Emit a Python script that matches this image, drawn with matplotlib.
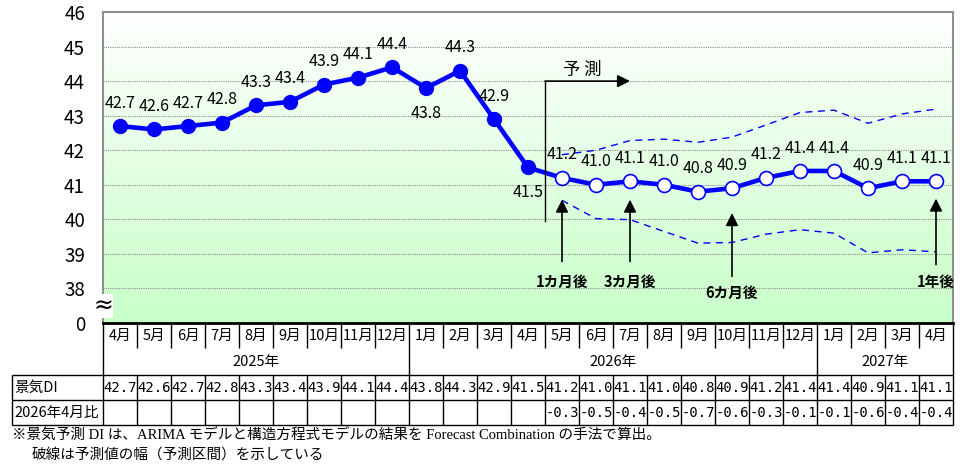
import numpy as np
import matplotlib
matplotlib.use('Agg')
import matplotlib.pyplot as plt
from matplotlib import transforms
from matplotlib.colors import LinearSegmentedColormap

plt.rcParams['font.family'] = ['Noto Sans CJK JP', 'DejaVu Sans']

# data
months = ['4月', '5月', '6月', '7月', '8月', '9月', '10月', '11月', '12月',
          '1月', '2月', '3月', '4月', '5月', '6月', '7月', '8月', '9月', '10月', '11月', '12月',
          '1月', '2月', '3月', '4月']
years = ['2025年', '2026年', '2027年']
year_spans = [9, 12, 4]
di = [42.7, 42.6, 42.7, 42.8, 43.3, 43.4, 43.9, 44.1, 44.4, 43.8, 44.3, 42.9, 41.5,
      41.2, 41.0, 41.1, 41.0, 40.8, 40.9, 41.2, 41.4, 41.4, 40.9, 41.1, 41.1]
diff = [None] * 13 + [-0.3, -0.5, -0.4, -0.5, -0.7, -0.6, -0.3, -0.1, -0.1, -0.6, -0.4, -0.4]
upper = [41.87, 42.0, 42.28, 42.32, 42.23, 42.38, 42.73, 43.09, 43.16, 42.78, 43.05, 43.19]
lower = [40.55, 40.02, 39.99, 39.65, 39.31, 39.33, 39.57, 39.70, 39.60, 39.03, 39.12, 39.06]
n_actual = 13
arrow_idx = [13, 15, 18, 24]
arrow_text = ['1カ月後', '3カ月後', '6カ月後', '1年後']
row_names = ['景気DI', '2026年4月比']

W, H = 963, 465
fig = plt.figure(figsize=(W / 100, H / 100), dpi=100)
ax = fig.add_axes([103 / W, 1 - 323 / H, (953 - 103) / W, (323 - 12) / H])
x = np.arange(len(di))
ax.set_xlim(-0.5, len(di) - 0.5)
ax.set_ylim(37, 46)

# background gradient
cmap = LinearSegmentedColormap.from_list('g', ['#c8ffc8', '#ffffff'])
grad = np.linspace(0, 1, 256).reshape(-1, 1)
ax.imshow(grad, extent=[-0.5, len(di) - 0.5, 37, 46], origin='lower', aspect='auto',
          cmap=cmap, zorder=0)

for v in range(38, 46):
    ax.axhline(v, color='#8c8c8c', lw=0.8, ls=(0, (1, 1)), zorder=1)

ax.set_xticks([])
ax.set_yticks(range(37, 47))
ax.set_yticklabels(['0'] + [str(v) for v in range(38, 47)])
ax.tick_params(axis='y', length=0, pad=13, labelsize=13.5)
for s in ['top', 'left', 'right']:
    ax.spines[s].set_color('#8f8f8f')
    ax.spines[s].set_linewidth(1.5)
ax.spines['bottom'].set_color('black')
ax.spines['bottom'].set_linewidth(2)

# break mark
brk = transforms.blended_transform_factory(ax.transAxes, ax.transData)
ax.text(0, 37.5, '≈', transform=brk, ha='center', va='center', fontsize=17,
        family='DejaVu Sans', bbox=dict(fc='white', ec='none', pad=0), zorder=6, clip_on=False)

# lines
ax.plot(x, di, color='#0000ff', lw=3.3, zorder=4, solid_joinstyle='round')
ax.plot(x[:n_actual], di[:n_actual], 'o', ms=10, color='#0000ff', zorder=5)
ax.plot(x[n_actual:], di[n_actual:], 'o', ms=10, mfc='white', mec='#0000ff', mew=1.2, zorder=5)
ax.plot(x[n_actual:], upper, color='#0000ff', lw=1, ls=(0, (5, 4)), zorder=3)
ax.plot(x[n_actual:], lower, color='#0000ff', lw=1, ls=(0, (5, 4)), zorder=3)

for i, v in enumerate(di):
    below = i in (9, 12)
    ax.annotate(f'{v:.1f}', (i, v), xytext=(0, -18 if below else 16.5), textcoords='offset points',
                ha='center', va='center', fontsize=11.5, zorder=6)

# forecast arrows
tails = [38.78, 38.78, 38.35, 38.69]
heads = [40.57, 40.57, 40.18, 40.6]
label_y = [38.2, 38.2, 37.87, 38.2]
ap = dict(arrowstyle='-|>,head_length=0.5,head_width=0.25', color='black', lw=1.2,
          mutation_scale=15, shrinkA=0, shrinkB=0)
for i, t, h, ly, txt in zip(arrow_idx, tails, heads, label_y, arrow_text):
    ax.annotate('', xy=(i, h), xytext=(i, t), arrowprops=ap, zorder=6)
    ax.text(i, ly, txt, ha='center', va='center', fontsize=10.5, fontweight='bold', zorder=6)

ax.plot([n_actual - 0.5, n_actual - 0.5], [39.94, 44.0], color='black', lw=1, zorder=6)
ax.annotate('', xy=(15.0, 44.0), xytext=(n_actual - 0.5, 44.0), arrowprops=ap, zorder=6)
ax.text(13.6, 44.32, '予 測', ha='center', va='center', fontsize=12.5, zorder=6)

# table
tab = fig.add_axes([0, 0, 1, 1])
tab.set_xlim(0, W)
tab.set_ylim(H, 0)
tab.axis('off')
tab.patch.set_visible(False)
tr = transforms.blended_transform_factory(ax.transData, tab.transData)
edges = np.arange(len(di) + 1) - 0.5
year_bounds = np.cumsum(year_spans)[:-1]
lk = dict(color='black', lw=1, solid_capstyle='butt')

for i in range(1, len(di)):
    bottom = 375 if i in year_bounds else 348
    tab.plot([edges[i], edges[i]], [323, bottom], transform=tr, **lk)
    tab.plot([edges[i], edges[i]], [375, 425], transform=tr, **lk)
for e in (edges[0], edges[-1]):
    tab.plot([e, e], [323, 425], transform=tr, **lk)
tab.plot([12, 12], [375, 425], **lk)
right_px = ax.get_position().x1 * W
for yy in (375, 400, 425):
    tab.plot([12, right_px], [yy, yy], **lk)

for i, m in enumerate(months):
    tab.text(i, 335.5, m, transform=tr, ha='center', va='center', fontsize=10.5)
start = 0
for y_lab, span in zip(years, year_spans):
    tab.text(start + span / 2 - 0.5, 361.5, y_lab, transform=tr, ha='center', va='center', fontsize=10.5)
    start += span
for i, v in enumerate(di):
    tab.text(i, 387.5, f'{v:.1f}', transform=tr, ha='center', va='center', fontsize=10,
             family='DejaVu Sans Mono')
for i, v in enumerate(diff):
    if v is not None:
        tab.text(i, 412.5, f'{v:.1f}', transform=tr, ha='center', va='center', fontsize=10,
                 family='DejaVu Sans Mono')
for yy, name in zip((387.5, 412.5), row_names):
    tab.text(14, yy, name, ha='left', va='center', fontsize=10.5)

# footnote
fam = ['Liberation Serif', 'Noto Sans CJK JP']
tab.text(12, 436, '※景気予測 DI は、ARIMA モデルと構造方程式モデルの結果を Forecast Combination の手法で算出。',
         ha='left', va='center', fontsize=10.5, family=fam)
tab.text(32, 455, '破線は予測値の幅（予測区間）を示している', ha='left', va='center', fontsize=10.5, family=fam)

fig.savefig('out.png', dpi=100)
